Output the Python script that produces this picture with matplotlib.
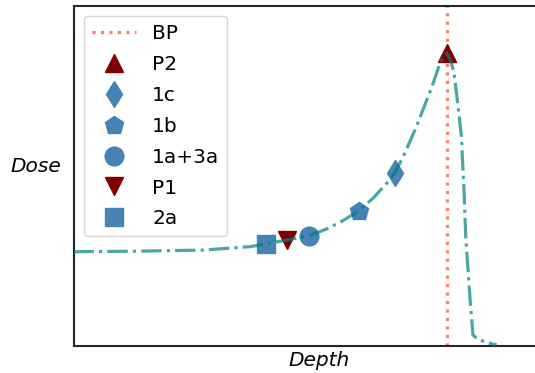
import matplotlib
matplotlib.use("Agg")
import matplotlib.pyplot as plt

# Depth-dose curve (relative dose vs depth)
depth = [0.0, 2.0, 4.48, 6.11, 6.66, 7.39, 8.15, 8.76, 9.30, 9.87, 10.37,
         10.84, 11.12, 11.41, 11.70, 11.89, 12.08, 12.40, 12.68, 12.85,
         12.93, 13.05, 13.17, 13.31, 13.43, 13.52, 13.58, 13.66, 13.74,
         13.83, 13.95, 14.07, 14.35, 14.65]
dose = [0.3205, 0.322, 0.326, 0.3376, 0.347, 0.3605, 0.375, 0.398, 0.425,
        0.4596, 0.503, 0.554, 0.589, 0.644, 0.709, 0.752, 0.801, 0.881,
        0.962, 0.995, 1.0, 0.975, 0.9355, 0.822, 0.7135, 0.531, 0.372,
        0.258, 0.145, 0.036, 0.026, 0.019, 0.009, 0.002]

bragg_peak = 12.93

# Measurement positions, in legend order
labels = ["P2", "1c", "1b", "1a+3a", "P1", "2a"]
point_depth = [12.93, 11.12, 9.87, 8.15, 7.39, 6.66]
point_dose = [1.0, 0.589, 0.4596, 0.375, 0.3605, 0.347]
markers = ["^", "d", "p", "o", "v", "s"]
colors = ["maroon", "steelblue", "steelblue", "steelblue", "maroon", "steelblue"]

fig = plt.figure(figsize=(5.35, 3.73), dpi=100)
ax = fig.add_axes([73.5 / 535, 1 - 345.5 / 373, (564.5 - 73.5) / 535, 339.5 / 373])

handles = []
bp = ax.axvline(bragg_peak, color="salmon", linestyle=":", lw=2.3, zorder=1, label="BP")
handles.append(bp)
for lab, x, y, m, c in zip(labels, point_depth, point_dose, markers, colors):
    h, = ax.plot([x], [y], linestyle="none", marker=m, color=c, ms=13.5,
                 zorder=2, label=lab)
    handles.append(h)

ax.plot(depth, dose, color="teal", alpha=0.7, linestyle="-.", lw=2.3, zorder=3)

ax.set_xlim(0, 17)
ax.set_ylim(0, 1.16)
ax.set_xticks([])
ax.set_yticks([])
for s in ax.spines.values():
    s.set_linewidth(1.5)
    s.set_color("#262626")

ax.set_xlabel("Depth", fontsize=14.5, style="italic")
ax.set_ylabel("Dose", fontsize=14.5, style="italic", rotation=0, labelpad=27)

ax.legend(handles=handles, loc="upper left", fontsize=14.5, labelspacing=0.59,
          handlelength=2.2)

fig.savefig("out.png", dpi=100)
